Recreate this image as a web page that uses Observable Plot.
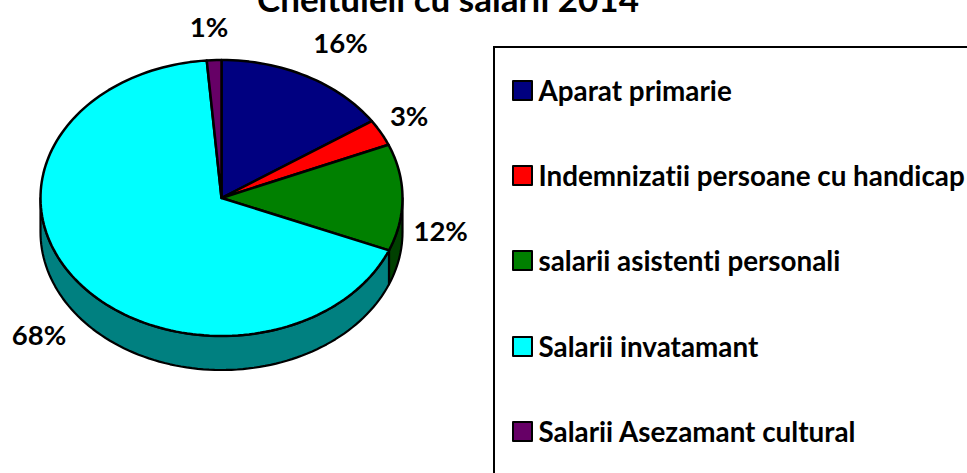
<!DOCTYPE html>
<html>
<head>
<meta charset="utf-8">
<script src="https://cdn.jsdelivr.net/npm/d3@7"></script>
<script src="https://cdn.jsdelivr.net/npm/@observablehq/plot@0.6"></script>
<style>
html,body{margin:0;padding:0;background:#fff;width:967px;height:473px;overflow:hidden;font-family:Lato,sans-serif;font-weight:700;color:#000;font-variant-ligatures:none}
#wrap{position:relative;width:967px;height:473px;overflow:hidden}
#title{position:absolute;left:0;width:896px;top:-20.5px;text-align:center;font-size:35px;line-height:36px;white-space:nowrap}
#legend{position:absolute;left:493px;top:46px;width:500px;height:460px;border:2.5px solid #000;box-sizing:border-box}
.row{position:absolute;left:16.5px;height:24px;display:flex;align-items:center;font-size:27.8px;white-space:nowrap}
.sw{width:17px;height:17px;border:2px solid #000;border-radius:1px;margin-right:6px;flex:none}
</style>
</head>
<body>
<div id="wrap"><div id="title">Cheltuieli cu salarii 2014</div></div>
<script>
const categories = ["Aparat primarie", "Indemnizatii persoane cu handicap", "salarii asistenti personali", "Salarii invatamant", "Salarii Asezamant cultural"];
const shares = [15.6, 3.1, 12.49, 67.51, 1.3];
const percentLabels = ["16%", "3%", "12%", "68%", "1%"];
const topColors = ["#000080", "#ff0000", "#008000", "#00ffff", "#660066"];
const sideColors = ["#000040", "#800000", "#004000", "#008080", "#330033"];

// layout, in pie units (1 = one radius of the tilted ellipse)
const W = 967, H = 473, cx = 221.5, cy = 198, rx = 181, ry = 138, depth = 34 / ry;
const labelX = [0.655, 1.034, 1.208, -1.011, -0.072];
const labelY = [1.116, 0.587, -0.246, -1.0, 1.232];
const legendRowY = [91, 176, 261, 347, 432];

const rad = d => d / 100 * 2 * Math.PI;
const ends = d3.cumsum(shares);
const arc = (name, a0, a1) => {
  const n = Math.max(2, Math.ceil((a1 - a0) * 2));
  return d3.range(n + 1).map(i => {
    const t = rad(a0 + (a1 - a0) * i / n);
    return {name, px: Math.sin(t), py: Math.cos(t)};
  });
};

const wedges = categories.flatMap((name, i) => arc(name, ends[i] - shares[i], ends[i]));

// visible outer wall: only the near half of the rim (25%..75% of the turn)
const walls = categories.flatMap((name, i) => {
  const a0 = Math.max(ends[i] - shares[i], 25), a1 = Math.min(ends[i], 75);
  return a1 > a0 ? arc(name, a0, a1).map(d => ({...d, side: sideColors[i]})) : [];
});

const labels = categories.map((name, i) => ({label: percentLabels[i], lx: labelX[i], ly: labelY[i]}));

const plot = Plot.plot({
  width: W, height: H, margin: 0,
  style: {background: "transparent", fontVariantLigatures: "none"},
  x: {axis: null, domain: [-cx / rx, (W - cx) / rx], range: [0, W]},
  y: {axis: null, domain: [cy / ry, (cy - H) / ry], range: [0, H]},
  color: {domain: categories, range: topColors},
  marks: [
    Plot.areaY(walls, {x: "px", y1: "py", y2: d => d.py - depth, z: "name", fill: "side", stroke: "#000", strokeWidth: 2.2, curve: "linear"}),
    Plot.area(wedges, {x1: () => 0, y1: () => 0, x2: "px", y2: "py", z: "name", fill: "name", stroke: "#000", strokeWidth: 2.5, strokeLinejoin: "round", curve: "linear"}),
    Plot.text(labels, {x: "lx", y: "ly", text: "label", fontSize: 27.5, fontWeight: 700, fontFamily: "Lato, sans-serif", fill: "#000"})
  ]
});

const wrap = document.getElementById("wrap");
wrap.insertBefore(plot, wrap.firstChild);
plot.style.position = "absolute"; plot.style.left = "0"; plot.style.top = "0";

const color = plot.scale("color");
const legend = document.createElement("div");
legend.id = "legend";
categories.forEach((name, i) => {
  const row = document.createElement("div");
  row.className = "row";
  row.style.top = (legendRowY[i] - 46 - 2.5 - 12) + "px";
  const sw = document.createElement("span");
  sw.className = "sw";
  sw.style.background = color.apply(name);
  row.appendChild(sw);
  row.appendChild(document.createTextNode(name));
  legend.appendChild(row);
});
wrap.appendChild(legend);
</script>
</body>
</html>
